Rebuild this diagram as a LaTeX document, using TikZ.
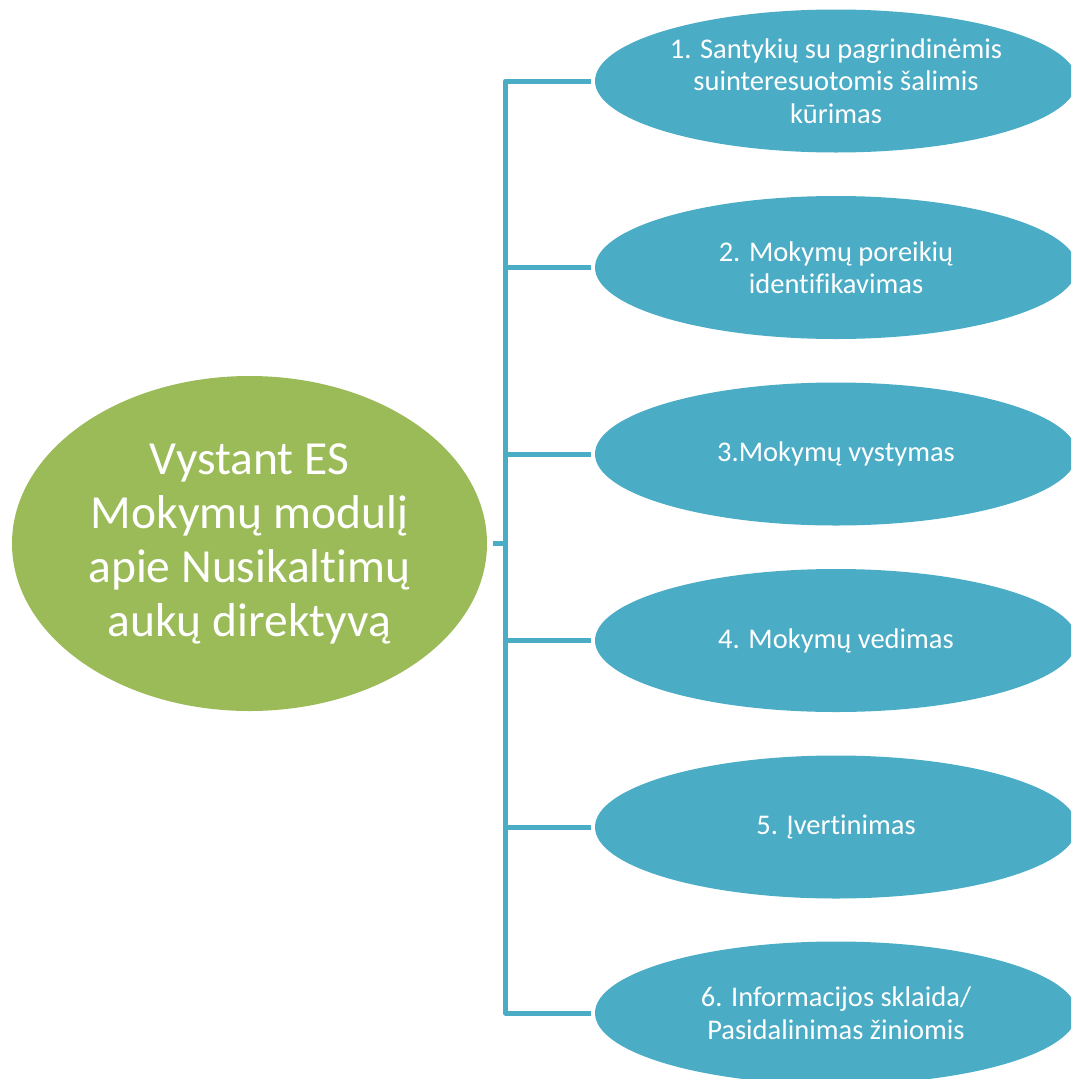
\documentclass[tikz,border=0pt]{standalone}
\usepackage{fontspec}
\setmainfont[Ligatures={NoCommon}]{Carlito}
\usetikzlibrary{shapes.geometric}
\definecolor{cgreen}{HTML}{9BBB59}
\definecolor{cblue}{HTML}{4BACC6}
\begin{document}
\begin{tikzpicture}[x=1pt,y=-1pt,
  mainbox/.style={ellipse, fill=cgreen, minimum width=475pt, minimum height=335pt, inner sep=0pt, text=white, align=center, font=\fontsize{47.5}{54}\selectfont},
  subbox/.style={ellipse, fill=cblue, minimum width=482pt, minimum height=143pt, inner sep=0pt, text=white, align=center, font=\fontsize{28.5}{32.5}\selectfont},
  conn/.style={draw=cblue, line width=5pt, line join=round}]
\useasboundingbox (0,0) rectangle (1071,1079);
\clip (0,0) rectangle (1071,1079);
\node[mainbox] (m) at (249.5,543.5) {Vystant ES\\Mokymų modulį\\apie Nusikaltimų\\aukų direktyvą};
\node[subbox] (s1) at (836,81) {1. Santykių su pagrindinėmis\\suinteresuotomis šalimis\\kūrimas};
\node[subbox] (s2) at (836,267.5) {2. Mokymų poreikių\\identifikavimas};
\node[subbox] (s3) at (836,454) {3.Mokymų vystymas};
\node[subbox] (s4) at (836,640.5) {4. Mokymų vedimas};
\node[subbox] (s5) at (836,827) {5. Įvertinimas};
\node[subbox] (s6) at (836,1013) {6. Informacijos sklaida/\\Pasidalinimas žiniomis};
\coordinate (bus) at (505.5,543.5);
\draw[conn] ([xshift=6pt]m.east) -- (bus);
\foreach \i in {1,...,6}{
  \draw[conn] (bus) |- ([xshift=-4pt]s\i.west);
}
\end{tikzpicture}
\end{document}
